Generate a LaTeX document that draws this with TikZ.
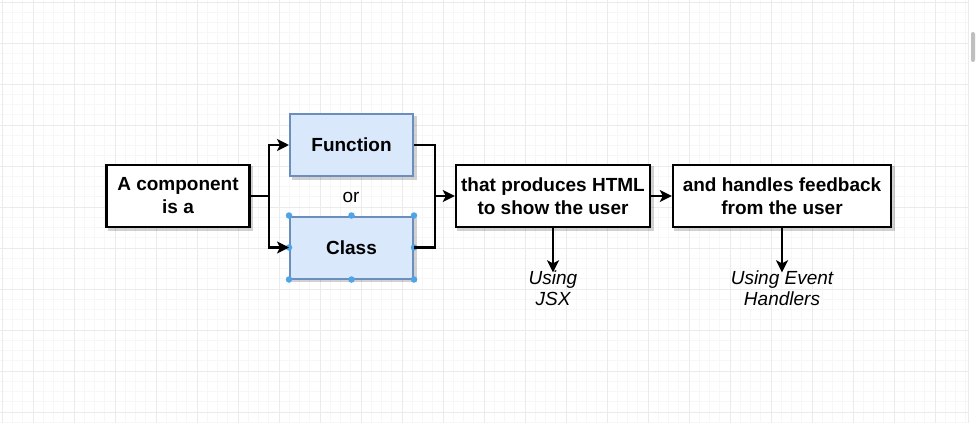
\documentclass[tikz,border=0pt]{standalone}
\usepackage{fontspec}
\setmainfont{Liberation Sans}
\usetikzlibrary{arrows.meta,backgrounds}
\definecolor{gridminor}{HTML}{F7F7F7}
\definecolor{gridmajor}{HTML}{EBEBEB}
\definecolor{bluefill}{HTML}{DAE8FC}
\definecolor{blueline}{HTML}{6C8EBF}
\definecolor{handle}{HTML}{4EA4E6}
\tikzset{
  box/.style={draw=black, line width=2.4pt, fill=white, minimum height=62pt, align=center,
    font=\bfseries\fontsize{19}{23}\selectfont, inner sep=0pt},
  bluebox/.style={box, draw=blueline, fill=bluefill, line width=2pt},
  conn/.style={line width=2.4pt, draw=black},
  arr/.style={conn, -{Stealth[length=12pt, width=12pt, inset=3pt]}},
  note/.style={font=\itshape\fontsize{19}{21}\selectfont, align=center, inner sep=0pt},
  hdl/.style={circle, fill=handle, inner sep=0pt, minimum size=6.5pt},
  shade box/.style={fill=black, opacity=0.18}
}
\begin{document}
\begin{tikzpicture}[x=1pt, y=-1pt]
\useasboundingbox (0,0) rectangle (978,423);

% nodes
\node[box, minimum width=143pt] (comp) at (178,196) {A component\\is a};
\node[bluebox, minimum width=123pt] (func) at (351.5,145) {Function};
\node[bluebox, minimum width=123pt] (cls) at (351.5,247.5) {Class};
\node[font=\fontsize{19}{21}\selectfont, inner sep=0pt] (or) at (351,197) {or};
\node[box, minimum width=194pt] (html) at (553,196) {that produces HTML\\to show the user};
\node[box, minimum width=218pt] (feed) at (782,196) {and handles feedback\\from the user};
\node[note] (jsx) at (553,288) {Using\\JSX};
\node[note] (evt) at (782,288) {Using Event\\Handlers};

% selection handles on Class
\foreach \a in {north west, north, north east, west, east, south west, south, south east}
  \node[hdl] at (cls.\a) {};

% connectors
\coordinate (j1) at (269,196);
\coordinate (j2) at (435,196);
\draw[conn] (comp.east) -- (j1);
\draw[arr] (j1) |- (func.west);
\draw[arr] (j1) |- (cls.west);
\draw[conn] (func.east) -| (j2);
\draw[conn] (cls.east) -| (j2);
\draw[arr] (j2) -- (html.west);
\draw[arr] (html.east) -- (feed.west);
\draw[arr] (html.south) -- ([yshift=-2pt]jsx.north);
\draw[arr] (feed.south) -- ([yshift=-2pt]evt.north);

\begin{pgfonlayer}{background}
\fill[white] (0,0) rectangle (978,423);
% grid
\foreach \i in {0,...,100} {
  \pgfmathsetmacro{\gx}{-8+\i*41/4}
  \pgfmathsetmacro{\gy}{2+\i*41/4}
  \ifdim \gx pt<968pt \draw[gridminor, line width=0.6pt] (\gx,0) -- (\gx,423); \fi
  \ifdim \gy pt<423pt \draw[gridminor, line width=0.6pt] (0,\gy) -- (968,\gy); \fi
}
\foreach \i in {0,...,25} {
  \pgfmathsetmacro{\gx}{-8+\i*41}
  \pgfmathsetmacro{\gy}{2+\i*41}
  \ifdim \gx pt<968pt \draw[gridmajor, line width=1pt] (\gx,0) -- (\gx,423); \fi
  \ifdim \gy pt<423pt \draw[gridmajor, line width=1pt] (0,\gy) -- (968,\gy); \fi
}
\draw[gridmajor, line width=1pt] (2,0) -- (2,423);
% scrollbar
\fill[white] (968,0) rectangle (978,423);
\draw[gridmajor, line width=1pt] (968,0) -- (968,423);
\fill[black!25, rounded corners=2pt] (971,32) rectangle (975,62);
% shadows
\foreach \n in {comp, func, cls, html, feed}
  \fill[shade box] ([shift={(2.5,2.5)}]\n.north west) rectangle ([shift={(2.5,2.5)}]\n.south east);
\end{pgfonlayer}
\end{tikzpicture}
\end{document}
